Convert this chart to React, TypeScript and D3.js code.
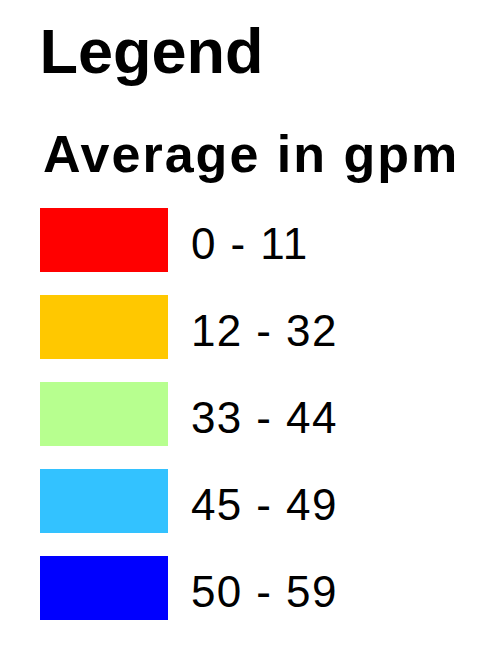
import React from "react";
import * as d3 from "d3";

const title = "Legend";
const subtitle = "Average in gpm";
const classLabels = ["0 - 11", "12 - 32", "33 - 44", "45 - 49", "50 - 59"];
const classColors = ["#ff0000", "#ffc800", "#b7ff8f", "#33c2ff", "#0000ff"];

const App = () => {
  const width = 485;
  const height = 645;

  // one row per class, swatch tops spaced evenly
  const y = d3
    .scaleLinear()
    .domain([0, classLabels.length - 1])
    .range([208, 556]);

  const color = d3.scaleOrdinal<string, string>().domain(classLabels).range(classColors);

  const swatchX = 40;
  const swatchW = 128;
  const swatchH = 64;

  return (
    <svg
      width={width}
      height={height}
      style={{ position: "absolute", left: 0, top: 0, background: "white" }}
      fontFamily="'Liberation Sans', Arial, sans-serif"
    >
      <text x={39.5} y={73} fontSize={63} fontWeight="bold" fill="#000">
        {title}
      </text>
      <text x={43} y={172} fontSize={52} fontWeight="bold" letterSpacing={2} fill="#000">
        {subtitle}
      </text>
      {classLabels.map((label, i) => (
        <g key={label} transform={`translate(0,${y(i)})`}>
          <rect x={swatchX} y={0} width={swatchW} height={swatchH} fill={color(label)} />
          <text x={191} y={50.5} fontSize={44} letterSpacing={1.4} fill="#000">
            {label}
          </text>
        </g>
      ))}
    </svg>
  );
};

export default App;
